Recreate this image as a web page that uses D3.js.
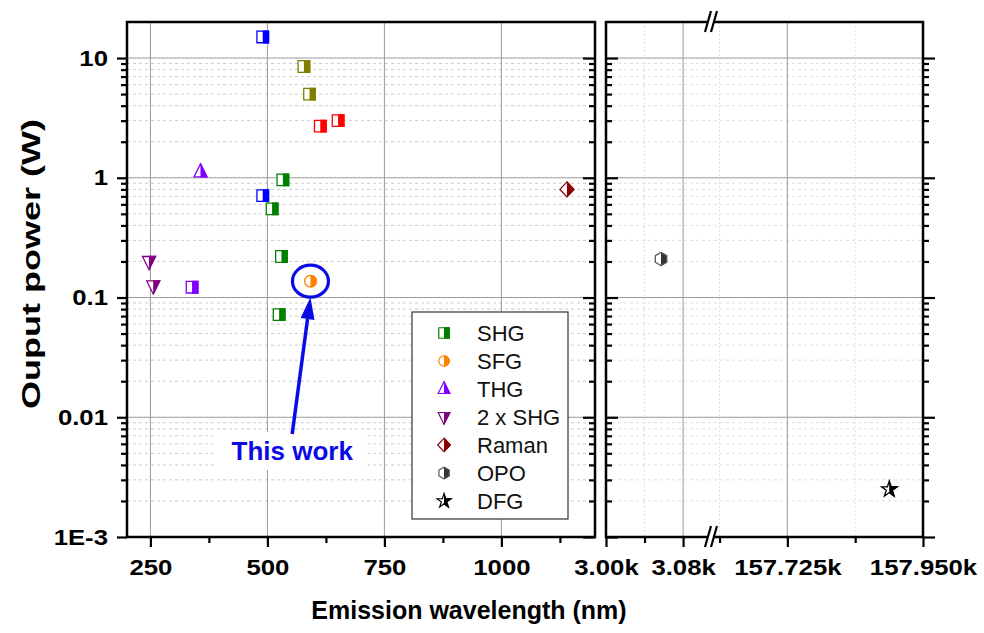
<!DOCTYPE html>
<html>
<head>
<meta charset="utf-8">
<script src="https://cdn.jsdelivr.net/npm/d3@7/dist/d3.min.js"></script>
<style>
  body { margin: 0; background: #fff; }
  svg { display: block; }
</style>
</head>
<body>
<div id="chart"></div>
<script>
// --- data: [wavelength nm, power W] ---
const shgBlue   = [[490, 15], [490, 0.71]];
const shgOlive  = [[578, 8.5], [590, 5.0]];
const shgRed    = [[613, 2.7], [651, 3.0]];
const shgGreen  = [[533, 0.96], [510, 0.55], [530, 0.22], [525, 0.072]];
const shgViolet = [[339, 0.122]];
const sfgPoints = [[592, 0.137]];
const thgPoints = [[357, 1.12]];
const shg2Points = [[247, 0.2], [256, 0.125]];
const ramanPoints = [[1140, 0.8]];
const opoPoints = [[3057, 0.21]];
const dfgPoints = [[157894, 0.0025]];

const legendLabels = ['SHG', 'SFG', 'THG', '2 x SHG', 'Raman', 'OPO', 'DFG'];

const yMajor = [1e-3, 1e-2, 0.1, 1, 10];
const yMajorLabels = ['1E-3', '0.01', '0.1', '1', '10'];
const xLeftMajor = [250, 500, 750, 1000];
const xLeftMinor = [375, 625, 875, 1125];
const xRightMajor = [3000, 3080, 157725, 157950];
const xRightLabels = ['3.00k', '3.08k', '157.725k', '157.950k'];
const xRightMinor = [3040, 157612.5, 157837.5];

// annotation anchor ("This work" label, in data units)
const thisWork = { wl: 553, p: 0.0044, text: 'This work' };

const W = 984, H = 633;
const LEFT = { x0: 127, x1: 595 };
const RIGHT = { x0: 606, x1: 923 };
const TOP = 22, BOTTOM = 537;
const BREAK_X = 712;
const STRETCH = 1.17; // tick labels in the figure are drawn a bit wide

const svg = d3.select('#chart').append('svg')
  .attr('width', W).attr('height', H)
  .style('font-family', '"Liberation Sans", Arial, sans-serif');

const y = d3.scaleLog().domain([1e-3, 20]).range([BOTTOM, TOP]);
const xL = d3.scaleLinear().domain([200, 1200]).range([LEFT.x0, LEFT.x1]);
const xR = d3.scaleLinear().domain([3000, 3110, 157600, 157950]).range([RIGHT.x0, BREAK_X, BREAK_X, RIGHT.x1]);

const yMinor = [];
for (const d of [1e-3, 1e-2, 0.1, 1]) for (let k = 2; k <= 9; k++) yMinor.push(d * k);

// half-filled clip
const defs = svg.append('defs');
defs.append('clipPath').attr('id', 'rightHalf')
  .append('rect').attr('x', 0).attr('y', -20).attr('width', 20).attr('height', 40);

// --- grids ---
const grid = svg.append('g');
for (const P of [LEFT, RIGHT]) {
  grid.selectAll(null).data(yMinor).join('line')
    .attr('x1', P.x0).attr('x2', P.x1)
    .attr('y1', d => y(d)).attr('y2', d => y(d))
    .attr('stroke', P === LEFT ? '#cccccc' : '#e0e0e0').attr('stroke-width', 1)
    .attr('stroke-dasharray', '3,3');
  grid.selectAll(null).data(yMajor).join('line')
    .attr('x1', P.x0).attr('x2', P.x1)
    .attr('y1', d => y(d)).attr('y2', d => y(d))
    .attr('stroke', '#9a9a9a').attr('stroke-width', 1);
}
grid.selectAll(null).data(xLeftMajor).join('line')
  .attr('x1', d => xL(d)).attr('x2', d => xL(d)).attr('y1', TOP).attr('y2', BOTTOM)
  .attr('stroke', '#9a9a9a').attr('stroke-width', 1);
grid.selectAll(null).data(xRightMajor.slice(1, 3)).join('line')
  .attr('x1', d => xR(d)).attr('x2', d => xR(d)).attr('y1', TOP).attr('y2', BOTTOM)
  .attr('stroke', '#9a9a9a').attr('stroke-width', 1);
grid.selectAll(null).data(xRightMinor).join('line')
  .attr('x1', d => xR(d)).attr('x2', d => xR(d)).attr('y1', TOP).attr('y2', BOTTOM)
  .attr('stroke', '#e2e2e2').attr('stroke-width', 1).attr('stroke-dasharray', '2,2');

// --- axes ---
function styleAxis(g) {
  g.select('.domain').remove();
  g.selectAll('line').attr('stroke', '#000').attr('stroke-width', 2.2);
  g.selectAll('text').attr('fill', '#000')
    .style('font-size', '22px').style('font-weight', 'bold')
    .each(function () {
      const t = d3.select(this);
      const x = +t.attr('x') || 0;
      t.attr('x', x / STRETCH).attr('transform', `scale(${STRETCH},1)`);
    });
}
function addY(x, gen, values, size, labels) {
  const a = gen(y).tickValues(values).tickSize(size).tickPadding(9)
    .tickFormat(labels ? (d, i) => labels[i] : '');
  svg.append('g').attr('transform', `translate(${x},0)`).call(a).call(styleAxis);
}
addY(LEFT.x0, d3.axisLeft, yMinor, 6);
addY(LEFT.x0, d3.axisLeft, yMajor, 10, yMajorLabels);
addY(LEFT.x1, d3.axisLeft, yMinor, 6);
addY(LEFT.x1, d3.axisLeft, yMajor, 12);
addY(RIGHT.x0, d3.axisRight, yMinor, 6);
addY(RIGHT.x0, d3.axisRight, yMajor, 12);
addY(RIGHT.x1, d3.axisRight, yMinor, 6);
addY(RIGHT.x1, d3.axisRight, yMajor, 12);

function addX(scale, values, size, labels) {
  const a = d3.axisBottom(scale).tickValues(values).tickSize(size).tickPadding(12)
    .tickFormat(labels ? (d, i) => labels[i] : '');
  svg.append('g').attr('transform', `translate(0,${BOTTOM})`).call(a).call(styleAxis);
}
addX(xL, xLeftMinor, 6);
addX(xL, xLeftMajor, 10, xLeftMajor.map(String));
addX(xR, xRightMinor, 6);
addX(xR, xRightMajor, 10, xRightLabels);

// frames
for (const P of [LEFT, RIGHT]) {
  svg.append('rect').attr('x', P.x0).attr('y', TOP)
    .attr('width', P.x1 - P.x0).attr('height', BOTTOM - TOP)
    .attr('fill', 'none').attr('stroke', '#000').attr('stroke-width', 2.5);
}

// axis break marks
for (const yb of [TOP, BOTTOM]) {
  svg.append('rect').attr('x', BREAK_X - 4).attr('y', yb - 2).attr('width', 6).attr('height', 4).attr('fill', '#fff');
  for (const dx of [-4, 2]) {
    svg.append('line')
      .attr('x1', BREAK_X + dx - 3).attr('y1', yb + 10)
      .attr('x2', BREAK_X + dx + 3).attr('y2', yb - 11)
      .attr('stroke', '#000').attr('stroke-width', 2.2);
  }
}

// --- markers ---
const shapes = {
  square: 'M-5.8,-5.8H5.8V5.8H-5.8Z',
  circle: d3.symbol(d3.symbolCircle, 105)(),
  up: 'M0,-8L6.5,5L-6.5,5Z',
  down: 'M0,8L6.5,-5L-6.5,-5Z',
  diamond: 'M0,-7.5L7,0L0,7.5L-7,0Z',
  hexagon: d3.line()(d3.range(6).map(i => {
    const a = (-90 + 60 * i) * Math.PI / 180;
    return [6.5 * Math.cos(a), 6.5 * Math.sin(a)];
  })) + 'Z',
  star: d3.symbol(d3.symbolStar, 75)()
};

function marker(g, shape, color, fillColor) {
  g.append('path').attr('d', shapes[shape]).attr('fill', '#fff')
    .attr('stroke', color).attr('stroke-width', 1.3);
  g.append('path').attr('d', shapes[shape]).attr('fill', fillColor || color)
    .attr('stroke', color).attr('stroke-width', 1.3).attr('clip-path', 'url(#rightHalf)');
}

const series = [
  { data: shgBlue, x: xL, shape: 'square', color: '#0000ff' },
  { data: shgOlive, x: xL, shape: 'square', color: '#808000' },
  { data: shgRed, x: xL, shape: 'square', color: '#ff0000' },
  { data: shgGreen, x: xL, shape: 'square', color: '#008000' },
  { data: shgViolet, x: xL, shape: 'square', color: '#8000ff' },
  { data: sfgPoints, x: xL, shape: 'circle', color: '#ff8000' },
  { data: thgPoints, x: xL, shape: 'up', color: '#8000ff' },
  { data: shg2Points, x: xL, shape: 'down', color: '#800080' },
  { data: ramanPoints, x: xL, shape: 'diamond', color: '#8b0000' },
  { data: opoPoints, x: xR, shape: 'hexagon', color: '#555', fill: '#333' },
  { data: dfgPoints, x: xR, shape: 'star', color: '#000' }
];

for (const s of series) {
  for (const d of s.data) {
    const g = svg.append('g').attr('transform', `translate(${s.x(d[0])},${y(d[1])})`);
    marker(g, s.shape, s.color, s.fill);
  }
}

// --- "This work" annotation ---
const blue = '#0a0ae6';
const sfg = sfgPoints[0];
const cx = xL(sfg[0]), cy = y(sfg[1]);
const rx = 18, ry = 16;
svg.append('ellipse').attr('cx', cx).attr('cy', cy).attr('rx', rx).attr('ry', ry)
  .attr('fill', 'none').attr('stroke', blue).attr('stroke-width', 3.2);

const tx = xL(thisWork.wl), ty = y(thisWork.p);
const label = svg.append('g');
const txt = label.append('text').attr('x', tx).attr('y', ty)
  .attr('text-anchor', 'middle').attr('fill', blue)
  .style('font-size', '26px').style('font-weight', 'bold').text(thisWork.text);
const bb = txt.node().getBBox();
label.insert('rect', 'text').attr('x', bb.x - 16).attr('y', bb.y - 4)
  .attr('width', bb.width + 30).attr('height', bb.height + 8).attr('fill', '#fff');

const tail = [tx, bb.y - 2];
const tip = [cx, cy + ry];
const ang = Math.atan2(tip[1] - tail[1], tip[0] - tail[0]);
const headL = 22, headW = 7;
const base = [tip[0] - headL * Math.cos(ang), tip[1] - headL * Math.sin(ang)];
svg.append('line').attr('x1', tail[0]).attr('y1', tail[1]).attr('x2', base[0]).attr('y2', base[1])
  .attr('stroke', blue).attr('stroke-width', 3.5);
svg.append('path').attr('fill', blue).attr('d', d3.line()([
  tip,
  [base[0] + headW * Math.sin(ang), base[1] - headW * Math.cos(ang)],
  [base[0] - headW * Math.sin(ang), base[1] + headW * Math.cos(ang)]
]) + 'Z');

// --- legend ---
const legendShapes = ['square', 'circle', 'up', 'down', 'diamond', 'hexagon', 'star'];
const legendColors = ['#008000', '#ff8000', '#8000ff', '#800080', '#8b0000', '#555', '#000'];
const lg = svg.append('g').attr('transform', 'translate(412,312)');
lg.append('rect').attr('width', 156).attr('height', 207)
  .attr('fill', '#fff').attr('stroke', '#333').attr('stroke-width', 1.2);
legendLabels.forEach((name, i) => {
  const row = lg.append('g').attr('transform', `translate(32,${21 + i * 28})`);
  const m = row.append('g').attr('transform', 'scale(0.9)');
  marker(m, legendShapes[i], legendColors[i], i === 5 ? '#333' : null);
  row.append('text').attr('x', 33).attr('dy', '0.36em')
    .style('font-size', '22px').attr('fill', '#111').text(name);
});

// --- axis titles ---
svg.append('text').attr('x', 469).attr('y', 619).attr('text-anchor', 'middle')
  .style('font-size', '25px').style('font-weight', 'bold').text('Emission wavelength (nm)');
svg.append('text').attr('transform', 'translate(40,264) rotate(-90)').attr('text-anchor', 'middle')
  .attr('textLength', 290).attr('lengthAdjust', 'spacingAndGlyphs')
  .style('font-size', '26px').style('font-weight', 'bold').text('Ouput power (W)');
</script>
</body>
</html>
